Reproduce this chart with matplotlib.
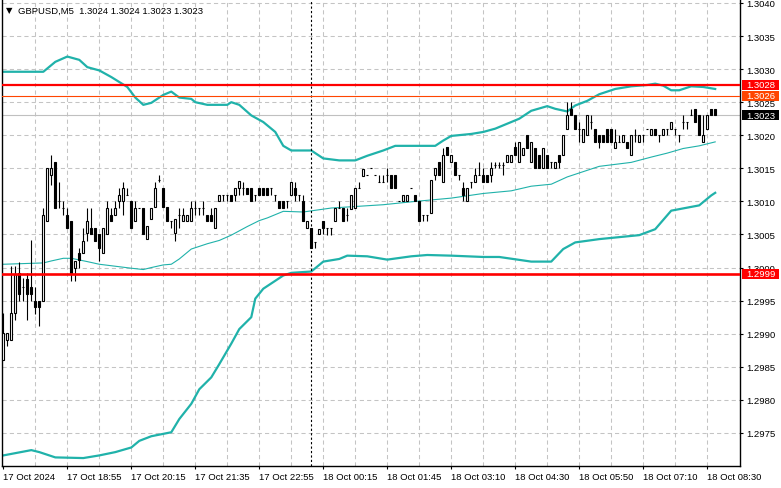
import matplotlib
matplotlib.use("Agg")
import matplotlib.pyplot as plt
import matplotlib.transforms as mtrans
from matplotlib.patches import Rectangle
import numpy as np

plt.rcParams['font.family'] = ['Liberation Sans', 'DejaVu Sans']

# ---------------- data (GBPUSD, M5) ----------------
open_ = [1.29861, 1.29890, 1.29890, 1.29932, 1.29992, 1.29970, 1.29982, 1.29970, 1.29950, 1.29950,
         1.29950, 1.30070, 1.30140, 1.30159, 1.30100, 1.30090, 1.30080, 1.30070, 1.30000, 1.30022,
         1.30022, 1.30052, 1.30060, 1.30060, 1.30050, 1.30022, 1.30050, 1.30080, 1.30080, 1.30100,
         1.30100, 1.30110, 1.30100, 1.30070, 1.30090, 1.30090, 1.30043, 1.30073, 1.30091, 1.30133,
         1.30121, 1.30091, 1.30070, 1.30053, 1.30080, 1.30070, 1.30070, 1.30070, 1.30090, 1.30090,
         1.30090, 1.30080, 1.30080, 1.30060, 1.30100, 1.30110, 1.30110, 1.30110, 1.30110, 1.30121,
         1.30121, 1.30121, 1.30121, 1.30110, 1.30121, 1.30121, 1.30121, 1.30120, 1.30110, 1.30100,
         1.30100, 1.30100, 1.30109, 1.30120, 1.30109, 1.30100, 1.30060, 1.30060, 1.30039, 1.30050,
         1.30070, 1.30060, 1.30060, 1.30070, 1.30090, 1.30090, 1.30080, 1.30089, 1.30090, 1.30120,
         1.30139, 1.30140, 1.30150, 1.30140, 1.30130, 1.30130, 1.30140, 1.30140, 1.30140, 1.30100,
         1.30100, 1.30100, 1.30120, 1.30110, 1.30100, 1.30080, 1.30080, 1.30082, 1.30140, 1.30160,
         1.30130, 1.30182, 1.30160, 1.30160, 1.30140, 1.30120, 1.30100, 1.30130, 1.30130, 1.30140,
         1.30140, 1.30140, 1.30140, 1.30155, 1.30155, 1.30155, 1.30160, 1.30160, 1.30182, 1.30160,
         1.30170, 1.30200, 1.30160, 1.30180, 1.30170, 1.30150, 1.30170, 1.30160, 1.30150, 1.30170,
         1.30170, 1.30210, 1.30240, 1.30230, 1.30210, 1.30190, 1.30200, 1.30220, 1.30210, 1.30200,
         1.30200, 1.30210, 1.30210, 1.30180, 1.30190, 1.30190, 1.30190, 1.30170, 1.30200, 1.30190,
         1.30200, 1.30210, 1.30200, 1.30210, 1.30200, 1.30200, 1.30210, 1.30210, 1.30210, 1.30200,
         1.30220, 1.30220, 1.30230, 1.30240, 1.30230, 1.30190, 1.30210, 1.30240, 1.30240]
high_ = [1.29931, 1.29901, 1.30002, 1.30002, 1.30009, 1.29984, 1.29992, 1.30042, 1.29970, 1.29950,
         1.30090, 1.30150, 1.30170, 1.30159, 1.30130, 1.30100, 1.30090, 1.30070, 1.30010, 1.30030,
         1.30060, 1.30090, 1.30090, 1.30060, 1.30050, 1.30060, 1.30100, 1.30090, 1.30100, 1.30120,
         1.30130, 1.30120, 1.30100, 1.30100, 1.30090, 1.30090, 1.30063, 1.30090, 1.30130, 1.30140,
         1.30121, 1.30091, 1.30070, 1.30073, 1.30090, 1.30090, 1.30080, 1.30100, 1.30100, 1.30090,
         1.30100, 1.30080, 1.30090, 1.30090, 1.30110, 1.30110, 1.30110, 1.30110, 1.30120, 1.30131,
         1.30130, 1.30121, 1.30121, 1.30110, 1.30121, 1.30121, 1.30121, 1.30120, 1.30110, 1.30100,
         1.30100, 1.30100, 1.30130, 1.30130, 1.30109, 1.30109, 1.30070, 1.30060, 1.30039, 1.30059,
         1.30070, 1.30060, 1.30060, 1.30090, 1.30100, 1.30090, 1.30090, 1.30109, 1.30120, 1.30130,
         1.30149, 1.30140, 1.30150, 1.30140, 1.30140, 1.30140, 1.30150, 1.30140, 1.30140, 1.30100,
         1.30110, 1.30110, 1.30120, 1.30110, 1.30100, 1.30080, 1.30080, 1.30132, 1.30150, 1.30160,
         1.30180, 1.30182, 1.30170, 1.30160, 1.30140, 1.30130, 1.30120, 1.30130, 1.30150, 1.30160,
         1.30150, 1.30140, 1.30160, 1.30160, 1.30160, 1.30160, 1.30170, 1.30170, 1.30190, 1.30190,
         1.30180, 1.30200, 1.30190, 1.30180, 1.30170, 1.30180, 1.30170, 1.30160, 1.30160, 1.30170,
         1.30200, 1.30250, 1.30250, 1.30230, 1.30220, 1.30210, 1.30230, 1.30230, 1.30210, 1.30200,
         1.30200, 1.30210, 1.30210, 1.30210, 1.30200, 1.30200, 1.30190, 1.30200, 1.30210, 1.30200,
         1.30200, 1.30210, 1.30210, 1.30210, 1.30200, 1.30210, 1.30210, 1.30220, 1.30210, 1.30200,
         1.30230, 1.30220, 1.30240, 1.30240, 1.30230, 1.30230, 1.30230, 1.30240, 1.30240]
low_ = [1.29861, 1.29881, 1.29890, 1.29920, 1.29949, 1.29949, 1.29920, 1.29949, 1.29930, 1.29912,
        1.29950, 1.30070, 1.30125, 1.30090, 1.30090, 1.30080, 1.30060, 1.29980, 1.29980, 1.30000,
        1.30022, 1.30040, 1.30050, 1.30040, 1.30010, 1.30022, 1.30050, 1.30070, 1.30080, 1.30090,
        1.30080, 1.30110, 1.30060, 1.30070, 1.30090, 1.30050, 1.30043, 1.30073, 1.30091, 1.30130,
        1.30091, 1.30070, 1.30060, 1.30040, 1.30060, 1.30070, 1.30070, 1.30070, 1.30080, 1.30080,
        1.30080, 1.30070, 1.30070, 1.30060, 1.30100, 1.30100, 1.30100, 1.30100, 1.30100, 1.30110,
        1.30110, 1.30111, 1.30101, 1.30100, 1.30110, 1.30110, 1.30110, 1.30110, 1.30100, 1.30090,
        1.30090, 1.30090, 1.30109, 1.30100, 1.30100, 1.30070, 1.30060, 1.30029, 1.30029, 1.30050,
        1.30050, 1.30049, 1.30049, 1.30070, 1.30090, 1.30070, 1.30070, 1.30089, 1.30090, 1.30120,
        1.30139, 1.30140, 1.30150, 1.30140, 1.30130, 1.30130, 1.30130, 1.30120, 1.30120, 1.30100,
        1.30100, 1.30100, 1.30120, 1.30100, 1.30070, 1.30070, 1.30070, 1.30082, 1.30132, 1.30140,
        1.30130, 1.30170, 1.30160, 1.30140, 1.30132, 1.30100, 1.30100, 1.30120, 1.30130, 1.30140,
        1.30130, 1.30130, 1.30130, 1.30150, 1.30150, 1.30140, 1.30160, 1.30160, 1.30170, 1.30160,
        1.30170, 1.30180, 1.30160, 1.30150, 1.30150, 1.30150, 1.30150, 1.30150, 1.30150, 1.30150,
        1.30170, 1.30210, 1.30230, 1.30210, 1.30190, 1.30190, 1.30200, 1.30210, 1.30190, 1.30180,
        1.30190, 1.30190, 1.30190, 1.30180, 1.30190, 1.30190, 1.30180, 1.30170, 1.30190, 1.30190,
        1.30190, 1.30210, 1.30200, 1.30200, 1.30190, 1.30200, 1.30200, 1.30210, 1.30200, 1.30190,
        1.30210, 1.30210, 1.30230, 1.30220, 1.30200, 1.30190, 1.30210, 1.30230, 1.30230]
close_ = [1.29901, 1.29901, 1.29932, 1.29990, 1.29960, 1.29970, 1.29960, 1.29960, 1.29940, 1.29940,
          1.30080, 1.30150, 1.30150, 1.30090, 1.30100, 1.30090, 1.30060, 1.29992, 1.30010, 1.30012,
          1.30040, 1.30070, 1.30050, 1.30040, 1.30030, 1.30060, 1.30090, 1.30070, 1.30090, 1.30110,
          1.30120, 1.30110, 1.30060, 1.30090, 1.30090, 1.30050, 1.30063, 1.30090, 1.30121, 1.30133,
          1.30091, 1.30070, 1.30070, 1.30073, 1.30080, 1.30080, 1.30080, 1.30090, 1.30090, 1.30090,
          1.30090, 1.30070, 1.30070, 1.30090, 1.30110, 1.30110, 1.30110, 1.30100, 1.30120, 1.30131,
          1.30121, 1.30111, 1.30101, 1.30110, 1.30110, 1.30110, 1.30110, 1.30120, 1.30110, 1.30090,
          1.30090, 1.30100, 1.30130, 1.30109, 1.30109, 1.30070, 1.30070, 1.30029, 1.30039, 1.30059,
          1.30060, 1.30060, 1.30060, 1.30090, 1.30090, 1.30070, 1.30080, 1.30109, 1.30120, 1.30120,
          1.30149, 1.30140, 1.30150, 1.30140, 1.30130, 1.30130, 1.30140, 1.30120, 1.30120, 1.30100,
          1.30110, 1.30110, 1.30120, 1.30100, 1.30070, 1.30080, 1.30080, 1.30132, 1.30150, 1.30140,
          1.30170, 1.30170, 1.30170, 1.30140, 1.30140, 1.30110, 1.30120, 1.30130, 1.30140, 1.30140,
          1.30130, 1.30130, 1.30150, 1.30155, 1.30155, 1.30155, 1.30170, 1.30170, 1.30170, 1.30190,
          1.30180, 1.30180, 1.30190, 1.30150, 1.30150, 1.30180, 1.30150, 1.30160, 1.30160, 1.30160,
          1.30200, 1.30230, 1.30230, 1.30210, 1.30210, 1.30210, 1.30230, 1.30220, 1.30190, 1.30190,
          1.30190, 1.30190, 1.30190, 1.30190, 1.30190, 1.30200, 1.30180, 1.30200, 1.30200, 1.30200,
          1.30200, 1.30210, 1.30210, 1.30200, 1.30200, 1.30210, 1.30210, 1.30220, 1.30210, 1.30200,
          1.30220, 1.30220, 1.30230, 1.30220, 1.30200, 1.30200, 1.30230, 1.30230, 1.30230]

# Bollinger bands, read at sample bars
upper_idx = [0, 10, 13, 16, 19, 21, 24, 27, 31, 33, 35, 37, 40, 42, 44, 47, 48, 51, 56, 57,
             59, 62, 65, 68, 70, 72, 77, 80, 84, 88, 91, 95, 98, 108, 110, 112, 117, 120, 123, 127,
             129, 132, 136, 138, 141, 143, 146, 149, 153, 157, 161, 163, 165, 167, 169, 172, 175, 178]
upper_val = [1.30296, 1.30296, 1.30311, 1.30319, 1.30314, 1.30303, 1.30298, 1.30288, 1.30273, 1.30257,
             1.30246, 1.30249, 1.30261, 1.30266, 1.30257, 1.30255, 1.30250, 1.30246, 1.30246, 1.30250,
             1.30246, 1.30230, 1.30220, 1.30205, 1.30184, 1.30177, 1.30177, 1.30165, 1.30162, 1.30162,
             1.30169, 1.30177, 1.30184, 1.30184, 1.30192, 1.30199, 1.30202, 1.30205, 1.30210, 1.30220,
             1.30225, 1.30237, 1.30244, 1.30240, 1.30236, 1.30245, 1.30252, 1.30262, 1.30270, 1.30274,
             1.30276, 1.30278, 1.30275, 1.30268, 1.30268, 1.30274, 1.30273, 1.30270]
mid_idx = [0, 10, 12, 15, 17, 21, 24, 28, 32, 35, 37, 40, 42, 44, 47, 51, 54, 57, 61, 64,
           66, 70, 75, 82, 95, 103, 112, 120, 127, 132, 137, 141, 145, 149, 157, 162, 166, 170, 174, 178]
mid_val = [1.30005, 1.30007, 1.30010, 1.30014, 1.30014, 1.30009, 1.30005, 1.30002, 1.29999, 1.29997,
           1.30000, 1.30004, 1.30005, 1.30013, 1.30028, 1.30036, 1.30041, 1.30049, 1.30062, 1.30071,
           1.30075, 1.30085, 1.30084, 1.30090, 1.30095, 1.30100, 1.30105, 1.30112, 1.30116, 1.30123,
           1.30126, 1.30137, 1.30145, 1.30153, 1.30159, 1.30167, 1.30173, 1.30180, 1.30184, 1.30190]
lower_idx = [0, 7, 9, 13, 20, 24, 28, 32, 34, 37, 42, 44, 47, 49, 52, 54, 57, 59, 62, 63,
             65, 68, 70, 72, 77, 80, 84, 86, 91, 96, 102, 106, 112, 120, 124, 132, 137, 140, 143, 149,
             159, 163, 167, 174, 177, 178]
lower_val = [1.29716, 1.29724, 1.29721, 1.29713, 1.29712, 1.29716, 1.29721, 1.29728, 1.29738, 1.29745,
             1.29751, 1.29771, 1.29794, 1.29816, 1.29834, 1.29854, 1.29885, 1.29907, 1.29925, 1.29953,
             1.29968, 1.29980, 1.29988, 1.29992, 1.29994, 1.30009, 1.30013, 1.30018, 1.30017, 1.30012,
             1.30017, 1.30019, 1.30018, 1.30016, 1.30016, 1.30009, 1.30009, 1.30028, 1.30038, 1.30043,
             1.30049, 1.30058, 1.30086, 1.30094, 1.30109, 1.30113]

# horizontal levels
levels = [1.30276, 1.30260, 1.30230, 1.29991]
level_colors = ['#FF0000', '#FF4500', '#C0C0C0', '#FF0000']
level_box_colors = ['#FF0000', '#FF4500', '#000000', '#FF0000']

time_labels = ['17 Oct 2024', '17 Oct 18:55', '17 Oct 20:15', '17 Oct 21:35', '17 Oct 22:55',
               '18 Oct 00:15', '18 Oct 01:45', '18 Oct 03:10', '18 Oct 04:30', '18 Oct 05:50',
               '18 Oct 07:10', '18 Oct 08:30']
label_bars = [0, 16, 32, 48, 64, 80, 96, 112, 128, 144, 160, 176]
cursor_bar = 77
header = 'GBPUSD,M5  1.3024 1.3024 1.3023 1.3023'

# ---------------- figure ----------------
W, H = 781, 489
fig = plt.figure(figsize=(W / 100, H / 100), dpi=100)
fig.patch.set_facecolor('white')
ax = fig.add_axes([2 / W, 22 / H, 738 / W, 467 / H])
ax.set_facecolor('white')

ylo, yhi = 1.29700, 1.30406
ax.set_xlim(-0.33, 184.2)
ax.set_ylim(ylo, yhi)

FS = 6.8
grid_kw = dict(color='#C4C4C4', lw=0.75, dashes=(4, 3), zorder=0.5)
yticks = np.arange(1.2975, 1.30401, 0.0005)
for yv in yticks:
    ax.axhline(yv, **grid_kw)
for xv in range(8, 184, 8):
    ax.axvline(xv, **grid_kw)

# bands
band_c = '#20B2AA'
ax.plot(upper_idx, upper_val, color=band_c, lw=1.6, zorder=2, solid_joinstyle='round')
ax.plot(mid_idx, mid_val, color=band_c, lw=0.8, zorder=2)
ax.plot(lower_idx, lower_val, color=band_c, lw=1.6, zorder=2, solid_joinstyle='round')

# candles
o = np.array(open_); h = np.array(high_); l = np.array(low_); c = np.array(close_)
xb = np.arange(len(c))
ax.vlines(xb, l, h, color='black', lw=0.8, zorder=3)
up = c >= o
ax.bar(xb, np.abs(c - o), bottom=np.minimum(o, c), width=0.55,
       color=np.where(up, 'white', 'black'), edgecolor='black', lw=0.8, zorder=4)

# levels
lw_map = [1.6, 0.8, 0.8, 1.9]
for v, col, lw in zip(levels, level_colors, lw_map):
    ax.axhline(v, color=col, lw=lw, zorder=5 if col != '#C0C0C0' else 1.5)

# cursor line
ax.axvline(cursor_bar, color='black', lw=0.8, dashes=(2, 2), zorder=2.5)

# axes styling
ax.spines['top'].set_visible(False)
for s in ['left', 'right', 'bottom']:
    ax.spines[s].set_color('black')
    ax.spines[s].set_linewidth(1.0)

ax.yaxis.tick_right()
ax.set_yticks(yticks)
ax.set_yticklabels([f'{v:.4f}' for v in yticks], fontsize=FS)
ax.tick_params(axis='y', direction='out', length=2.5, width=0.8, pad=2, colors='black')

ax.set_xticks(label_bars)
ax.set_xticklabels(time_labels, fontsize=FS, ha='left')
ax.tick_params(axis='x', direction='out', length=2.5, width=0.8, pad=2, colors='black')

# price label boxes on the right
trans = mtrans.blended_transform_factory(ax.transAxes, ax.transData)
px_y = (yhi - ylo) / 467.0
px_x = 1.0 / 738.0
for v, bc in zip(levels, level_box_colors):
    rect = Rectangle((1.0 + 2 * px_x, v - 5 * px_y), 37 * px_x, 10 * px_y, transform=trans,
                     facecolor=bc, edgecolor='none', clip_on=False, zorder=10)
    ax.add_patch(rect)
    ax.text(1.0 + 6.5 * px_x, v, f'{v:.4f}', transform=trans, color='white', fontsize=FS,
            ha='left', va='center', clip_on=False, zorder=11)

# header
fig.text(6 / W, 1 - 11 / H, '\u25BC', fontsize=6, family=['DejaVu Sans'], color='black',
         ha='left', va='center')
fig.text(18 / W, 1 - 11 / H, header, fontsize=FS, color='black', ha='left', va='center')

fig.savefig('out.png', dpi=100, facecolor='white')
